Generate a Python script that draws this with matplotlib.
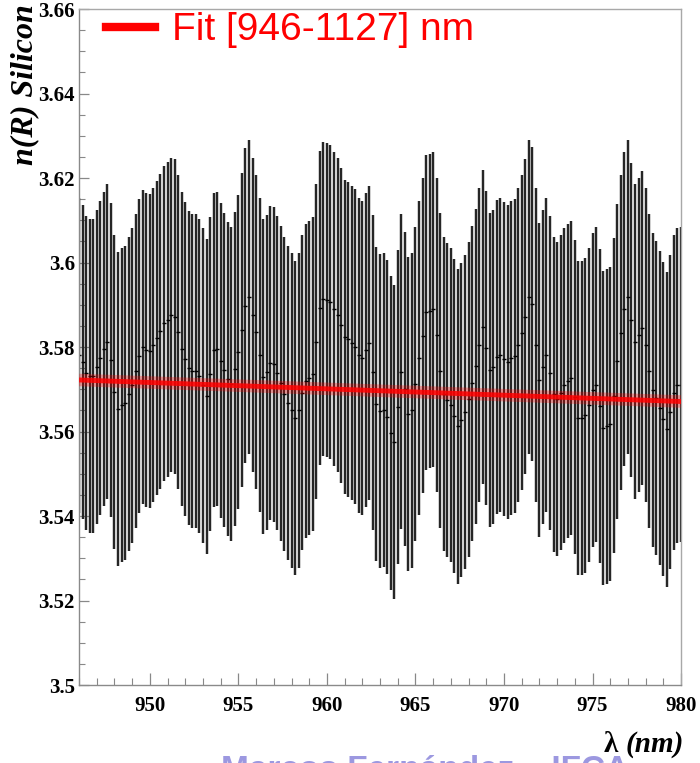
import numpy as np
import matplotlib.pyplot as plt
from matplotlib.lines import Line2D
from matplotlib.ticker import MultipleLocator, FuncFormatter

# wavelength grid of the measurement (nm), one point every 0.2 nm
lam = np.round(np.arange(946.0, 980.01, 0.2), 1)

# refractive index n(R), centre of each error bar
n_val = [
    3.5780, 3.5764, 3.5739, 3.5731, 3.5731, 3.5752, 3.5774, 3.5796, 3.5813, 3.5770,
    3.5693, 3.5654, 3.5662, 3.5667, 3.5689, 3.5709, 3.5743, 3.5778, 3.5800, 3.5793,
    3.5790, 3.5804, 3.5821, 3.5837, 3.5856, 3.5865, 3.5875, 3.5872, 3.5835, 3.5796,
    3.5772, 3.5750, 3.5743, 3.5743, 3.5732, 3.5709, 3.5683, 3.5736, 3.5793, 3.5796,
    3.5768, 3.5746, 3.5725, 3.5713, 3.5748, 3.5788, 3.5841, 3.5898, 3.5918, 3.5875,
    3.5835, 3.5781, 3.5730, 3.5740, 3.5762, 3.5759, 3.5738, 3.5714, 3.5689, 3.5667,
    3.5650, 3.5632, 3.5650, 3.5692, 3.5719, 3.5726, 3.5736, 3.5813, 3.5893, 3.5914,
    3.5912, 3.5906, 3.5890, 3.5875, 3.5851, 3.5823, 3.5818, 3.5810, 3.5801, 3.5780,
    3.5774, 3.5793, 3.5810, 3.5740, 3.5665, 3.5648, 3.5651, 3.5634, 3.5596, 3.5575,
    3.5658, 3.5742, 3.5701, 3.5642, 3.5650, 3.5713, 3.5774, 3.5827, 3.5882, 3.5885,
    3.5889, 3.5829, 3.5744, 3.5689, 3.5675, 3.5662, 3.5636, 3.5612, 3.5628, 3.5646,
    3.5676, 3.5714, 3.5754, 3.5804, 3.5847, 3.5797, 3.5746, 3.5752, 3.5776, 3.5781,
    3.5772, 3.5764, 3.5774, 3.5778, 3.5804, 3.5834, 3.5872, 3.5918, 3.5902, 3.5804,
    3.5722, 3.5752, 3.5781, 3.5739, 3.5688, 3.5677, 3.5692, 3.5709, 3.5719, 3.5727,
    3.5681, 3.5632, 3.5632, 3.5638, 3.5662, 3.5699, 3.5711, 3.5660, 3.5608, 3.5612,
    3.5618, 3.5685, 3.5766, 3.5834, 3.5890, 3.5918, 3.5864, 3.5813, 3.5829, 3.5845,
    3.5804, 3.5743, 3.5699, 3.5680, 3.5655, 3.5630, 3.5605, 3.5646, 3.5692, 3.5709,
    3.5711,
]
n_err = 0.0372

# fit over [946-1127] nm, drawn in the visible window
fit_lam = [946.0, 980.0]
fit_n = [3.5722, 3.5671]
fit_label = "Fit [946-1127] nm"

serif = ["Liberation Serif", "DejaVu Serif"]
sans = ["Liberation Sans", "DejaVu Sans"]

fig = plt.figure(figsize=(7, 7.63), dpi=100)
ax = fig.add_axes([0.1129, 0.1022, 0.86, 0.886])

ax.errorbar(lam, n_val, yerr=n_err, fmt="_", color="black", ms=3.5, mew=1.0,
            ecolor="#262626", elinewidth=1.75, capsize=0, zorder=2)

# red fit with a soft halo
ax.plot(fit_lam, fit_n, color="red", lw=9, alpha=0.3, solid_capstyle="butt", zorder=3)
ax.plot(fit_lam, fit_n, color="red", lw=3.5, alpha=0.85, solid_capstyle="butt", zorder=4)

ax.set_xlim(946, 980)
ax.set_ylim(3.5, 3.66)

ax.xaxis.set_major_locator(MultipleLocator(5))
ax.xaxis.set_minor_locator(MultipleLocator(1))
ax.yaxis.set_major_locator(MultipleLocator(0.02))
ax.yaxis.set_minor_locator(MultipleLocator(0.005))


def root_fmt(v, pos):
    return ("%.2f" % v).rstrip("0").rstrip(".")


ax.yaxis.set_major_formatter(FuncFormatter(root_fmt))
ax.xaxis.set_major_formatter(FuncFormatter(lambda v, p: "%d" % round(v)))

ax.tick_params(axis="both", which="both", direction="in", color="#888888",
               top=False, right=False)
ax.tick_params(axis="x", which="major", length=8.5, width=0.9, pad=8)
ax.tick_params(axis="x", which="minor", length=5, width=0.8)
ax.tick_params(axis="y", which="major", length=7.5, width=0.9, pad=3)
ax.tick_params(axis="y", which="minor", length=4, width=0.8)

for lab in ax.get_xticklabels() + ax.get_yticklabels():
    lab.set_family(serif)
    lab.set_weight("bold")
    lab.set_fontsize(15)

for s in ax.spines.values():
    s.set_color("#a8a8a8")
    s.set_linewidth(1.0)
ax.spines["left"].set_color("#8a8a8a")
ax.spines["bottom"].set_color("#8a8a8a")

# axis titles placed ROOT style
fig.text(25 / 700, 1 - 4 / 763, "n(R) Silicon", rotation=90, ha="center", va="top",
         family=serif, weight="bold", style="italic", fontsize=23)
fig.text(618 / 700, 1 - 744 / 763, "λ", ha="right", va="center",
         family=serif, weight="bold", fontsize=21)
fig.text(626 / 700, 1 - 744 / 763, "(nm)", ha="left", va="center",
         family=serif, weight="bold", style="italic", fontsize=21)

handle = Line2D([], [], color="red", lw=6)
ax.legend([handle], [fit_label], loc="upper left", bbox_to_anchor=(0.045, 0.995),
          frameon=False, labelcolor="red", handlelength=1.25,
          handletextpad=0.45, borderpad=0, borderaxespad=0,
          prop={"family": sans, "size": 28})

# slide footer, cut by the bottom edge
fig.text(0.607, -0.03, "Marcos Fernández    IFCA", ha="center", va="bottom",
         color="#9c98e0", fontsize=24, family=sans, weight="bold")

fig.savefig("out.png", dpi=100)
